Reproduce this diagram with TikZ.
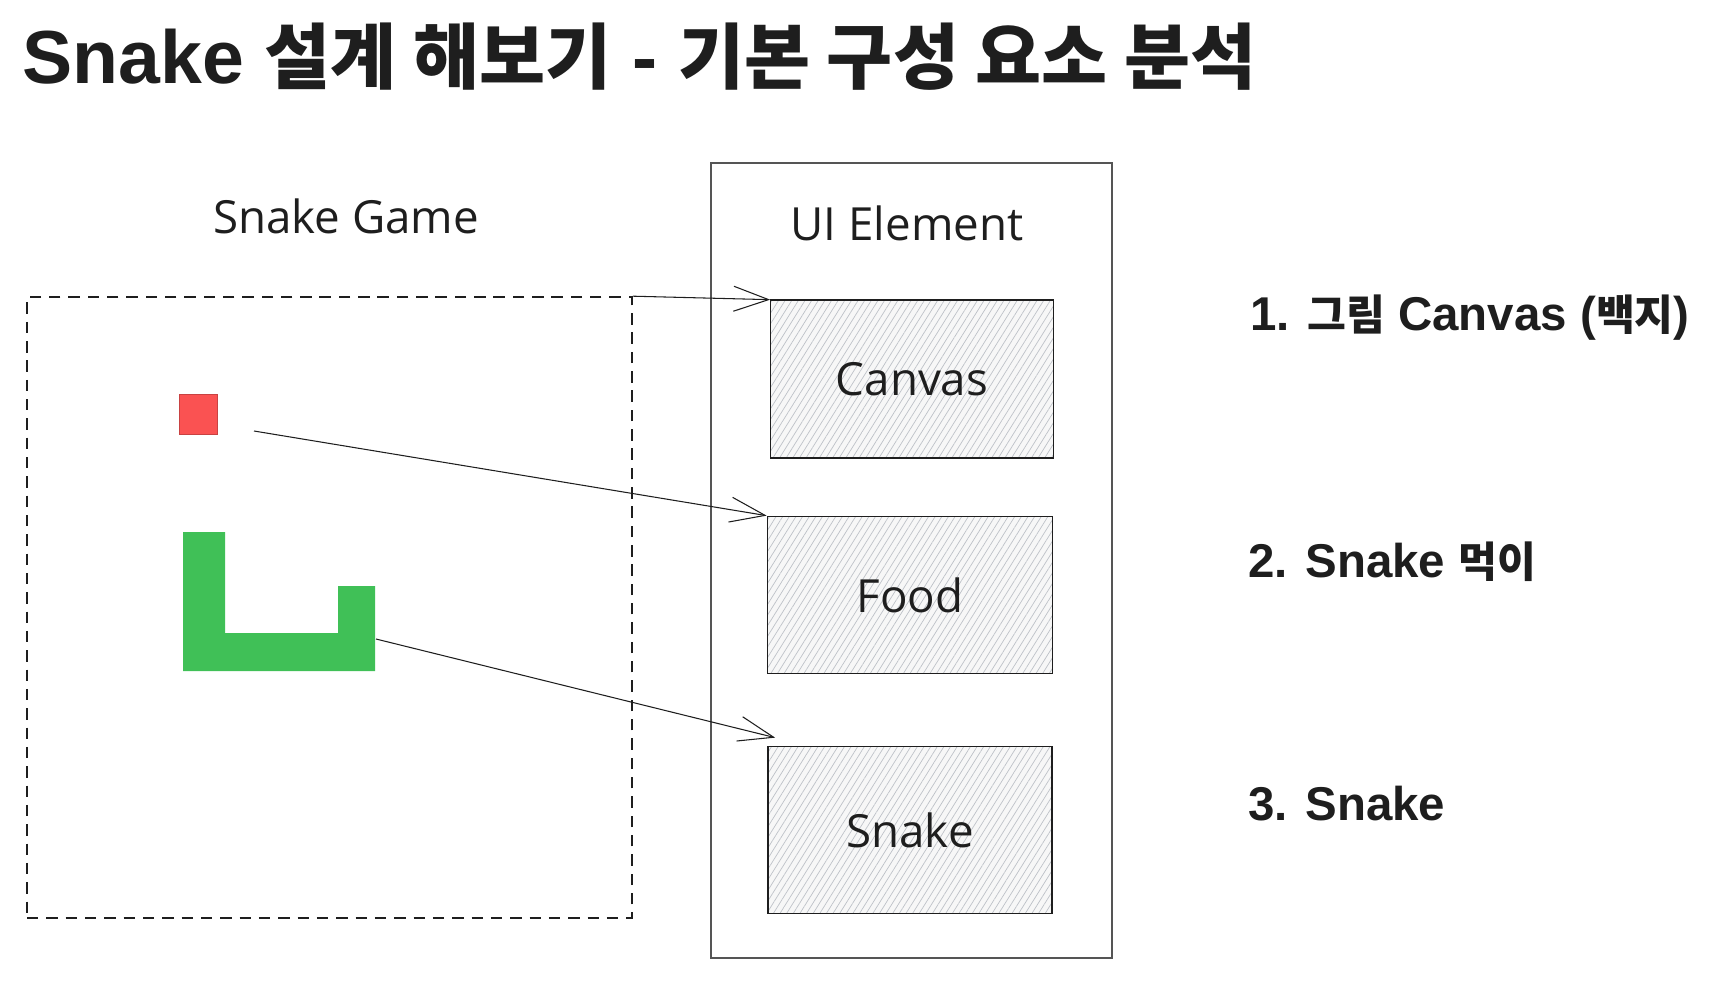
\documentclass[tikz,border=0pt]{standalone}
\usepackage{fontspec}
\setmainfont{Liberation Sans}
\newfontfamily\krtitle[Scale=0.955]{Noto Sans CJK KR}
\newfontfamily\krfont[Scale=0.89]{Noto Sans CJK KR}
\newfontfamily\handfont{Open Sans}
\usetikzlibrary{arrows.meta, positioning, patterns.meta, calc}
\definecolor{ink}{HTML}{1E1E1E}
\definecolor{framegray}{HTML}{555555}
\definecolor{foodred}{HTML}{FA5252}
\definecolor{snakegreen}{HTML}{40C057}
\definecolor{hatch}{HTML}{BEC2C8}

\begin{document}
\begin{tikzpicture}[
    x=0.02cm, y=-0.02cm,
    hand/.style={font=\handfont\fontsize{26}{30}\selectfont, text=ink},
    item/.style={font=\fontsize{27}{32}\selectfont\bfseries, text=ink,
                 anchor=base west, inner sep=0},
    part/.style={rectangle, draw=ink, line width=1pt, inner sep=0, hand,
                 preaction={fill=gray!6},
                 pattern={Lines[angle=58, distance=3.2pt, line width=0.4pt]},
                 pattern color=hatch},
    link/.style={draw=ink, line width=0.6pt,
                 -{Straight Barb[length=7mm, width=5mm]}}
]
    \useasboundingbox (0,0) rectangle (1710,984);

    % title
    \node[anchor=base west, inner sep=0, text=ink,
          font=\fontsize{42.8}{50}\selectfont\bfseries] (title) at (22,83)
          {Snake {\krtitle 설계 해보기} - {\krtitle 기본 구성 요소 분석}};

    % frames
    \node[draw=ink, line width=1pt, dash pattern={on 6.5pt off 4.5pt},
          minimum width=12.1cm, minimum height=12.42cm, inner sep=0] (game) at (329.5,607.5) {};
    \node[draw=framegray, line width=0.8pt,
          minimum width=8.02cm, minimum height=15.9cm, inner sep=0] (ui) at (911.5,560.5) {};
    \node[hand, anchor=base] (gamelabel) at (346,233) {Snake Game};
    \node[hand, anchor=base] (uilabel)   at (907,240) {UI Element};

    % ui parts
    \node[part, minimum width=5.66cm, minimum height=3.16cm] (canvas) at (912,379) {Canvas};
    \node[part, minimum width=5.7cm,  minimum height=3.14cm] (food)   at (910,595) {Food};
    \node[part, minimum width=5.68cm, minimum height=3.34cm] (snake)  at (910,830) {Snake};

    % game pieces
    \node[fill=foodred, draw=foodred!80!black, line width=0.5pt, inner sep=0,
          minimum width=0.76cm, minimum height=0.8cm] (apple) at (198,414) {};
    \fill[snakegreen] (183,532) -- (225,532) -- (225,633) -- (338,633)
        -- (338,586) -- (375,586) -- (375,671) -- (183,671) -- cycle;
    \coordinate (appletail) at (254,431);
    \coordinate (snaketail) at (376,639);

    \draw[link] (game.north east) -- (canvas.north west);
    \draw[link] (appletail) -- (food.north west);
    \draw[link] (snaketail) -- ($(snake.north west)+(8,-8)$);

    % list
    \node[item] (item1) at (1250,330) {1. {\krfont 그림} Canvas ({\krfont 백지})};
    \node[item] (item2) at (1248,577) {2. Snake {\krfont 먹이}};
    \node[item] (item3) at (1248,820) {3. Snake};
\end{tikzpicture}
\end{document}
